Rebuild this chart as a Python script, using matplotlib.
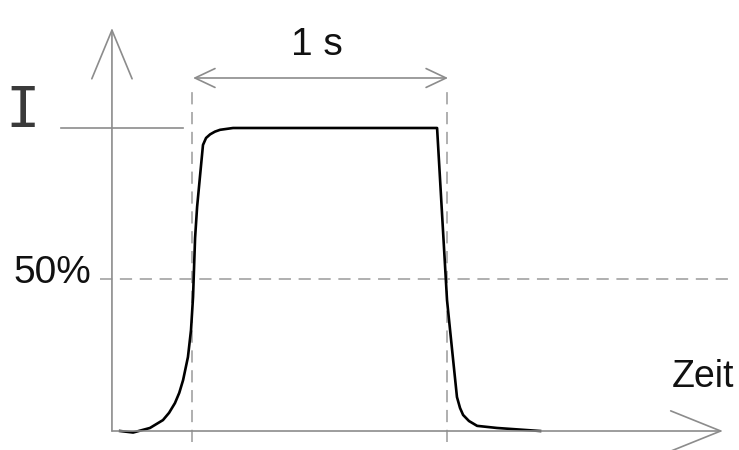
import matplotlib.pyplot as plt

# pulse shape: time in s (0 = start of the 1 s window), current as fraction of I
time_s = [-0.282, -0.231, -0.165, -0.114, -0.090, -0.067, -0.050, -0.035, -0.016,
          -0.004, 0.004, 0.012, 0.020, 0.031, 0.043, 0.055, 0.071, 0.090, 0.110,
          0.161, 0.227, 0.961, 1.000, 1.020, 1.039, 1.051, 1.063, 1.086, 1.118,
          1.196, 1.365]
current = [0.0, -0.005, 0.010, 0.036, 0.060, 0.092, 0.126, 0.168, 0.244,
           0.333, 0.442, 0.637, 0.740, 0.838, 0.944, 0.967, 0.979, 0.988, 0.994,
           1.0, 1.0, 1.0, 0.432, 0.267, 0.112, 0.076, 0.053, 0.033, 0.017,
           0.010, 0.0]

pulse_start = 0.0
pulse_end = 1.0
half_level = 0.5
full_level = 1.0

label_top = "I"
label_half = "50%"
label_time = "Zeit"
label_width = "1 s"

GREY = "#8c8c8c"
DASH = "#9a9a9a"

fig = plt.figure(figsize=(7.39, 4.5), dpi=100)
ax = fig.add_axes([0, 0, 1, 1])
ax.set_xlim(-0.753, 2.145)
ax.set_ylim(-0.0627, 1.4224)
ax.axis("off")

y_axis_t = -0.314


def arrow(tip, tail, style, lw=1.2, color=GREY):
    ax.annotate("", xy=tip, xytext=tail,
                arrowprops=dict(arrowstyle=style, mutation_scale=1, shrinkA=0, shrinkB=0,
                                color=color, lw=lw))


# axes with open arrowheads
arrow((y_axis_t, 1.330), (y_axis_t, 0.0), "->,head_length=35,head_width=14.5")
arrow((2.082, 0.0), (y_axis_t, 0.0), "->,head_length=36,head_width=14.5")

# level of I
ax.plot([-0.514, -0.035], [full_level, full_level], color=GREY, lw=1.2)

# 50% dashed line
ax.plot([-0.361, 2.13], [half_level, half_level], color=DASH, lw=1.1, dashes=(8, 5))

# vertical dashed markers
for t in (pulse_start, pulse_end):
    ax.plot([t, t], [-0.036, 1.132], color=DASH, lw=1.1, dashes=(8, 5))

# 1 s dimension arrow
arrow((pulse_end + 0.004, 1.165), (pulse_start + 0.004, 1.165), "<->,head_length=14.4,head_width=6.8")

# pulse
ax.plot(time_s, current, color="black", lw=1.9, solid_joinstyle="round")

ax.text(0.49, 1.275, label_width, ha="center", va="center", fontsize=28,
        family="Liberation Sans", color="#111111")
ax.text(-0.396, 0.521, label_half, ha="right", va="center", fontsize=28,
        family="Liberation Sans", color="#111111")
ax.text(1.882, 0.178, label_time, ha="left", va="center", fontsize=27,
        family="Liberation Sans", color="#111111")
ax.text(-0.665, 1.05, label_top, ha="center", va="center", fontsize=41,
        family="DejaVu Sans Mono", color="#3a3a3a")

fig.savefig("out.png", dpi=100, facecolor="white")
